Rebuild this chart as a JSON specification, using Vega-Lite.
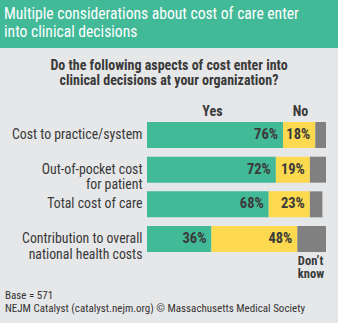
{
  "$schema": "https://vega.github.io/schema/vega-lite/v6.json",
  "background": "#e6e7e8",
  "padding": {"left": 0, "top": 0, "right": 0, "bottom": 11},
  "spacing": 10,
  "config": {
    "font": "Liberation Sans Narrow, Roboto Condensed, Roboto",
    "view": {"stroke": null},
    "axis": {"grid": false, "domain": false, "ticks": false}
  },
  "title": {
    "text": ["Base = 571", "NEJM Catalyst (catalyst.nejm.org) © Massachusetts Medical Society"],
    "orient": "bottom", "anchor": "start", "offset": 10, "dx": 5,
    "fontSize": 11, "fontWeight": "normal", "color": "#333333", "lineHeight": 13,
    "font": "Liberation Sans Narrow, Roboto Condensed, Roboto"
  },
  "vconcat": [
    {
      "width": 338,
      "height": 48,
      "view": {"fill": "#42b997", "stroke": null},
      "data": {"values": [{}]},
      "mark": {"type": "rect", "color": "#42b997"},
      "title": {
        "text": ["Multiple considerations about cost of care enter", "into clinical decisions"],
        "orient": "top", "anchor": "start", "frame": "group",
        "offset": -40.5, "dx": 4, "color": "white", "fontSize": 15.6, "fontWeight": "normal",
        "lineHeight": 17.5, "font": "Liberation Sans Narrow, Roboto Condensed, Roboto"
      }
    },
    {
      "width": 338,
      "height": 130,
      "data": {
        "values": [
          {"q": "Cost to practice/system", "resp": "Yes", "pct": 0.76},
          {"q": "Cost to practice/system", "resp": "No", "pct": 0.18},
          {"q": "Cost to practice/system", "resp": "Don’t know", "pct": 0.06},
          {"q": "Out-of-pocket cost|for patient", "resp": "Yes", "pct": 0.72},
          {"q": "Out-of-pocket cost|for patient", "resp": "No", "pct": 0.19},
          {"q": "Out-of-pocket cost|for patient", "resp": "Don’t know", "pct": 0.09},
          {"q": "Total cost of care", "resp": "Yes", "pct": 0.68},
          {"q": "Total cost of care", "resp": "No", "pct": 0.23},
          {"q": "Total cost of care", "resp": "Don’t know", "pct": 0.07},
          {"q": "Contribution to overall|national health costs", "resp": "Yes", "pct": 0.36},
          {"q": "Contribution to overall|national health costs", "resp": "No", "pct": 0.48},
          {"q": "Contribution to overall|national health costs", "resp": "Don’t know", "pct": 0.16}
        ]
      },
      "title": {
        "text": ["Do the following aspects of cost enter into", "clinical decisions at your organization?"],
        "anchor": "middle", "frame": "group", "fontSize": 14, "fontWeight": "bold",
        "color": "#3a3a3a", "lineHeight": 15.5, "offset": 16,
        "font": "Liberation Sans Narrow, Roboto Condensed, Roboto"
      },
      "encoding": {
        "y": {
          "field": "q", "type": "nominal", "sort": null,
          "scale": {"paddingInner": 0.25, "paddingOuter": 0},
          "axis": {
            "title": null, "labelExpr": "split(datum.label, '|')", "labelAlign": "right",
            "labelBaseline": "middle", "labelPadding": 5, "labelFontSize": 13.8,
            "labelColor": "#383838", "labelLineHeight": 15.5, "offset": -147,
            "labelLimit": 0
          }
        },
        "order": {"field": "resp", "sort": "descending"}
      },
      "layer": [
        {
          "mark": {"type": "bar"},
          "encoding": {
            "x": {
              "field": "pct", "type": "quantitative", "stack": "zero",
              "scale": {"domain": [-0.821229, 1.067039], "nice": false, "zero": false},
              "axis": {
                "orient": "top", "values": [0.363, 0.855], "title": null,
                "labelExpr": "datum.value < 0.5 ? 'Yes' : 'No'", "labelFontWeight": "bold",
                "labelFontSize": 14, "labelColor": "#3a3a3a", "labelPadding": 4,
                "labelAlign": "center", "labelFlush": false, "labelOverlap": false, "offset": 0
              }
            },
            "color": {
              "field": "resp", "type": "nominal",
              "scale": {"domain": ["Yes", "No", "Don’t know"], "range": ["#42b997", "#fdd94f", "#808080"]},
              "legend": null
            }
          }
        },
        {
          "transform": [{"filter": "datum.resp != 'Don’t know'"}],
          "mark": {"type": "text", "align": "right", "baseline": "middle", "dx": -5, "fontWeight": "bold", "fontSize": 14.5, "color": "#3a3a3a"},
          "encoding": {
            "x": {
              "field": "pct", "type": "quantitative", "stack": "zero",
              "axis": {
                "orient": "bottom", "values": [0.84], "title": null,
                "labelExpr": "['Don’t', 'know']", "labelFontWeight": "bold",
                "labelFontSize": 12.5, "labelColor": "#3a3a3a", "labelPadding": 2,
                "labelAlign": "left", "labelBaseline": "top", "labelLineHeight": 13,
                "labelFlush": false, "labelOverlap": false, "offset": 0
              }
            },
            "text": {"field": "pct", "type": "quantitative", "format": ".0%"}
          }
        }
      ],
      "resolve": {"axis": {"x": "independent"}}
    }
  ]
}
